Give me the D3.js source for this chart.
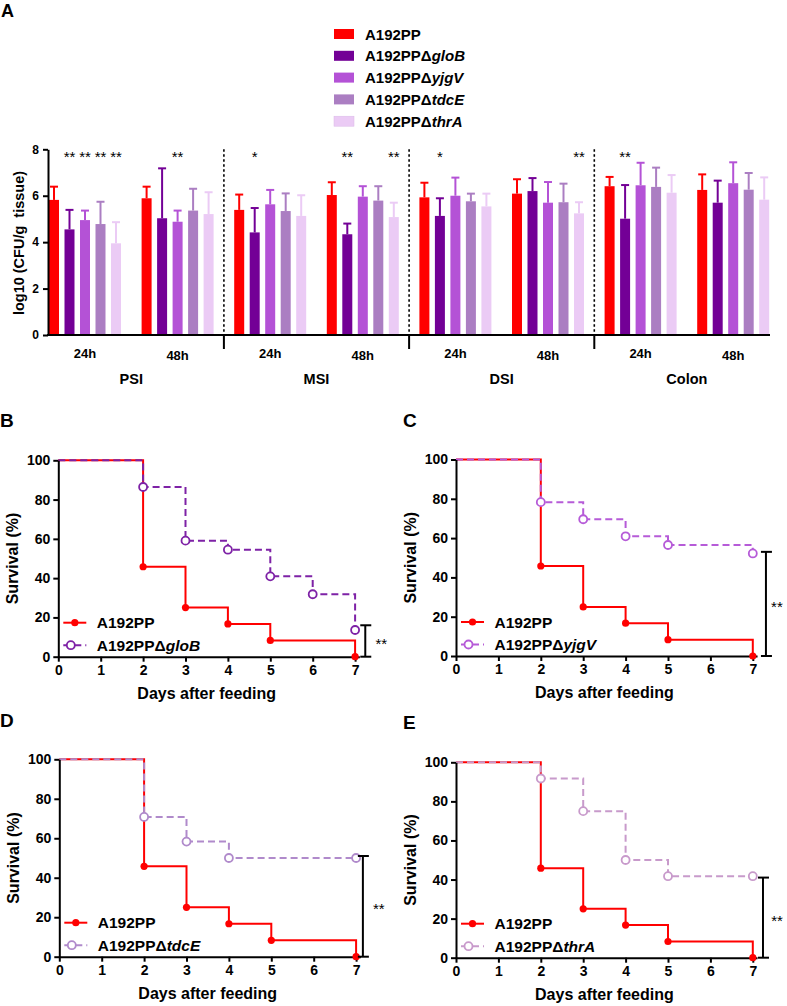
<!DOCTYPE html>
<html><head><meta charset="utf-8">
<script src="https://cdn.jsdelivr.net/npm/d3@7"></script>
<style>
body{margin:0;background:#fff}
svg{font-family:"Liberation Sans",Arial,Helvetica,sans-serif}
</style></head><body>
<svg id="c" width="787" height="1006"></svg>
<script>
// ---------------- DATA ----------------
const tissues = ["PSI","MSI","DSI","Colon"];
const times = ["24h","48h"];
const strainBase = ["A192PP","A192PP\u0394","A192PP\u0394","A192PP\u0394","A192PP\u0394"];
const strainGene = ["","gloB","yjgV","tdcE","thrA"];
const barColors = ["#FF0000","#730096","#B452D6","#AB7EC2","#EBCBF5"];
const yTicksA = [0,2,4,6,8];
// groups: PSI24, PSI48, MSI24, MSI48, DSI24, DSI48, Colon24, Colon48
const meanA192PP = [5.82,5.89,5.39,6.03,5.93,6.09,6.41,6.25];
const meanGloB   = [4.55,5.03,4.42,4.34,5.13,6.20,5.01,5.70];
const meanYjgV   = [4.95,4.88,5.63,5.96,6.00,5.70,6.45,6.54];
const meanTdcE   = [4.78,5.36,5.34,5.79,5.76,5.72,6.38,6.26];
const meanThrA   = [3.95,5.21,5.13,5.08,5.54,5.24,6.13,5.83];
const upperA192PP = [6.39,6.39,6.05,6.58,6.56,6.71,6.81,6.92];
const upperGloB   = [5.39,7.18,5.47,4.80,5.89,6.76,6.46,6.65];
const upperYjgV   = [5.36,5.36,6.25,6.41,6.78,6.59,7.42,7.44];
const upperTdcE   = [5.74,6.30,6.10,6.41,6.09,6.52,7.21,6.98];
const upperThrA   = [4.86,6.15,6.02,5.70,6.09,5.72,6.89,6.79];
const sigGroup  = [0,0,0,0,1,2,3,3,4,5,6];
const sigStrain = [1,2,3,4,2,1,1,4,1,4,1];
const sigLabel  = ["**","**","**","**","**","*","**","**","*","**","**"];

// survival
const daysTicks = [0,1,2,3,4,5,6,7];
const survTicks = [0,20,40,60,80,100];
const daysA192PP = [0,2,3,4,5,7];
const survA192PP = [100,45.8,25,16.7,8.3,0];
const daysGloB = [0,2,3,4,5,6,7];
const survGloB = [100,86.4,59.1,54.5,40.9,31.8,13.6];
const daysYjgV = [0,2,3,4,5,7];
const survYjgV = [100,78.3,69.6,60.9,56.5,52.2];
const daysTdcE = [0,2,3,4,7];
const survTdcE = [100,70.8,58.3,50,50];
const daysThrA = [0,2,3,4,5,7];
const survThrA = [100,91.7,75,50,41.7,41.7];
const mutantColors = ["#7E22A6","#B65BD8","#B08ACB","#C89ACB"];
const survSigTop = [16,53,51,41];
const survSigLabel = ["**","**","**","**"];

// ---------------- DRAW ----------------
const FONT = '"Liberation Sans",Arial,Helvetica,sans-serif';
const svg = d3.select("#c");

function styleAxis(g, fs){
  g.attr("font-family", FONT);
  g.select(".domain").attr("stroke","#000").attr("stroke-width",2);
  g.selectAll(".tick line").attr("stroke","#000").attr("stroke-width",2);
  g.selectAll(".tick text").attr("font-size",fs).attr("font-weight","bold").attr("fill","#000");
}

// ===== Panel A =====
const meansA = [meanA192PP,meanGloB,meanYjgV,meanTdcE,meanThrA];
const uppersA = [upperA192PP,upperGloB,upperYjgV,upperTdcE,upperThrA];
const groups = d3.range(8);
const gx = d3.scaleBand().domain(groups).range([38.7,779.5]).paddingInner(0).paddingOuter(0);
const sx = d3.scaleBand().domain(d3.range(5)).range([0,72]).paddingInner(0.355).paddingOuter(0);
const yA = d3.scaleLinear().domain([0,8]).range([335,149.3]);
const A0 = 48, AEnd = 770;
const grpLeft = g => gx(g) + gx.bandwidth()/2 - 36;

svg.append("text").attr("x",1).attr("y",17).attr("font-size",18).attr("font-weight","bold").text("A");

// legend
const legA = svg.append("g");
strainBase.forEach((b,i)=>{
  const cy = 34 + i*21.8;
  legA.append("rect").attr("x",334).attr("y",cy-5).attr("width",20).attr("height",10)
    .attr("fill",barColors[i]).attr("stroke", i===4? "#d9b8e6":"none").attr("stroke-width",0.5);
  const t = legA.append("text").attr("x",365).attr("y",cy+5.5).attr("font-size",15).attr("font-weight","bold");
  t.append("tspan").text(b);
  if(strainGene[i]) t.append("tspan").attr("font-style","italic").text(strainGene[i]);
});

// bars
const barsG = svg.append("g");
groups.forEach(g=>{
  for(let s=0;s<5;s++){
    const x = grpLeft(g) + sx(s), w = sx.bandwidth(), cx = x + w/2;
    const c = barColors[s];
    barsG.append("line").attr("x1",cx).attr("x2",cx).attr("y1",yA(meansA[s][g])).attr("y2",yA(uppersA[s][g]))
      .attr("stroke",c).attr("stroke-width",2);
    barsG.append("line").attr("x1",cx-4).attr("x2",cx+4).attr("y1",yA(uppersA[s][g])).attr("y2",yA(uppersA[s][g]))
      .attr("stroke",c).attr("stroke-width",2);
    barsG.append("rect").attr("x",x).attr("y",yA(meansA[s][g])).attr("width",w)
      .attr("height",yA(0)-yA(meansA[s][g])).attr("fill",c);
  }
});

// significance stars
sigGroup.forEach((g,i)=>{
  const cx = grpLeft(g) + sx(sigStrain[i]) + sx.bandwidth()/2;
  svg.append("text").attr("x",cx).attr("y",162).attr("text-anchor","middle").attr("font-size",15)
    .attr("fill","#000").text(sigLabel[i]);
});

// dividers
[1,2,3].forEach(k=>{
  const xd = gx(k*2);
  svg.append("line").attr("x1",xd).attr("x2",xd).attr("y1",yA(8)).attr("y2",yA(0))
    .attr("stroke","#000").attr("stroke-width",1.6).attr("stroke-dasharray","2.5,2.5");
  svg.append("line").attr("x1",xd).attr("x2",xd).attr("y1",yA(0)).attr("y2",yA(0)+14)
    .attr("stroke","#000").attr("stroke-width",2);
});

// y axis
const yAxisA = svg.append("g").attr("transform",`translate(${A0},0)`)
  .call(d3.axisLeft(yA).tickValues(yTicksA).tickSize(5).tickSizeOuter(0).tickPadding(4));
styleAxis(yAxisA,12);
svg.append("line").attr("x1",A0-1).attr("x2",AEnd).attr("y1",yA(0)).attr("y2",yA(0)).attr("stroke","#000").attr("stroke-width",2);

// time labels
groups.forEach(g=>{
  svg.append("text").attr("x",gx(g)+gx.bandwidth()/2).attr("y",358 + (g%2)*2).attr("text-anchor","middle")
    .attr("font-size",13).attr("font-weight","bold").text(times[g%2]);
});
tissues.forEach((t,i)=>{
  svg.append("text").attr("x",(gx(i*2)+gx(i*2+1)+gx.bandwidth())/2).attr("y",384).attr("text-anchor","middle")
    .attr("font-size",14.5).attr("font-weight","bold").text(t);
});
svg.append("text").attr("transform","translate(24,243) rotate(-90)").attr("text-anchor","middle")
  .attr("font-size",14.5).attr("font-weight","bold").style("white-space","pre").text("log10 (CFU/g  tissue)");

// ===== Survival panels =====
const mutDays = [daysGloB,daysYjgV,daysTdcE,daysThrA];
const mutSurv = [survGloB,survYjgV,survTdcE,survThrA];
const panels = [
  {L:"B", lx:0,   ly:427, x0:58.3, top:460.3, bottom:656.7, brX:7.24, sdx:16},
  {L:"C", lx:403, ly:427, x0:456,  top:459.5, bottom:656,   brX:7.31, sdx:11},
  {L:"D", lx:0,   ly:727, x0:59.3, top:759.3, bottom:956.7, brX:7.16, sdx:16},
  {L:"E", lx:403, ly:729, x0:456,  top:762.3, bottom:957.7, brX:7.24, sdx:14}
];
const dayPx = 42.4;

panels.forEach((p,pi)=>{
  const g = svg.append("g");
  const x = d3.scaleLinear().domain([0,7.1]).range([p.x0, p.x0+7.1*dayPx]);
  const y = d3.scaleLinear().domain([0,100]).range([p.bottom,p.top]);
  g.append("text").attr("x",p.lx).attr("y",p.ly).attr("font-size",19).attr("font-weight","bold").text(p.L);

  const line = d3.line().x(d=>x(d[0])).y(d=>y(d[1])).curve(d3.curveStepAfter);
  const ref = daysA192PP.map((d,i)=>[d,survA192PP[i]]);
  const mut = mutDays[pi].map((d,i)=>[d,mutSurv[pi][i]]);
  const mc = mutantColors[pi];

  g.append("path").attr("d",line(ref)).attr("fill","none").attr("stroke","#FF0000").attr("stroke-width",2);
  g.append("path").attr("d",line(mut)).attr("fill","none").attr("stroke",mc).attr("stroke-width",2)
    .attr("stroke-dasharray","7,4");

  const ya = g.append("g").attr("transform",`translate(${p.x0},0)`)
    .call(d3.axisLeft(y).tickValues(survTicks).tickSize(5).tickSizeOuter(0).tickPadding(3));
  styleAxis(ya,14);
  const xa = g.append("g").attr("transform",`translate(0,${p.bottom})`)
    .call(d3.axisBottom(x).tickValues(daysTicks).tickFormat(d3.format("d")).tickSize(5).tickSizeOuter(0).tickPadding(3));
  styleAxis(xa,14);

  g.selectAll(".rm").data(ref.slice(1)).join("circle").attr("cx",d=>x(d[0])).attr("cy",d=>y(d[1]))
    .attr("r",3.6).attr("fill","#FF0000");
  g.selectAll(".mm").data(mut.slice(1)).join("circle").attr("cx",d=>x(d[0])).attr("cy",d=>y(d[1]))
    .attr("r",4).attr("fill","#fff").attr("stroke",mc).attr("stroke-width",1.8);

  const bx = x(p.brX);
  g.append("line").attr("x1",bx).attr("x2",bx).attr("y1",y(survSigTop[pi])).attr("y2",y(0)).attr("stroke","#000").attr("stroke-width",2);
  [survSigTop[pi],0].forEach(v=>g.append("line").attr("x1",bx-5).attr("x2",bx+6).attr("y1",y(v)).attr("y2",y(v))
    .attr("stroke","#000").attr("stroke-width",2));
  g.append("text").attr("x",bx+p.sdx).attr("y",(y(survSigTop[pi])+y(0))/2+8).attr("text-anchor","middle")
    .attr("font-size",15).text(survSigLabel[pi]);

  const r1 = p.bottom-34, r2 = p.bottom-11.5;
  const lx1 = p.x0+5, lx2 = p.x0+28, lcx = p.x0+16.5;
  g.append("line").attr("x1",lx1).attr("x2",lx2).attr("y1",r1).attr("y2",r1).attr("stroke","#FF0000").attr("stroke-width",2);
  g.append("circle").attr("cx",lcx).attr("cy",r1).attr("r",3.6).attr("fill","#FF0000");
  g.append("line").attr("x1",lx1).attr("x2",lx2).attr("y1",r2).attr("y2",r2).attr("stroke",mc).attr("stroke-width",2).attr("stroke-dasharray","7,4");
  g.append("circle").attr("cx",lcx-4).attr("cy",r2).attr("r",4).attr("fill","#fff").attr("stroke",mc).attr("stroke-width",1.8);
  g.append("text").attr("x",p.x0+38.5).attr("y",r1+5.5).attr("font-size",15.5).attr("font-weight","bold").text(strainBase[0]);
  const t2 = g.append("text").attr("x",p.x0+38.5).attr("y",r2+5.5).attr("font-size",15.5).attr("font-weight","bold");
  t2.append("tspan").text(strainBase[pi+1]);
  t2.append("tspan").attr("font-style","italic").text(strainGene[pi+1]);

  g.append("text").attr("x",p.x0+3.5*dayPx).attr("y",p.bottom+42).attr("text-anchor","middle")
    .attr("font-size",16).attr("font-weight","bold").text("Days after feeding");
  g.append("text").attr("transform",`translate(${p.x0-40},${(p.top+p.bottom)/2}) rotate(-90)`)
    .attr("text-anchor","middle").attr("font-size",16).attr("font-weight","bold").text("Survival (%)");
});
</script>
</body></html>
